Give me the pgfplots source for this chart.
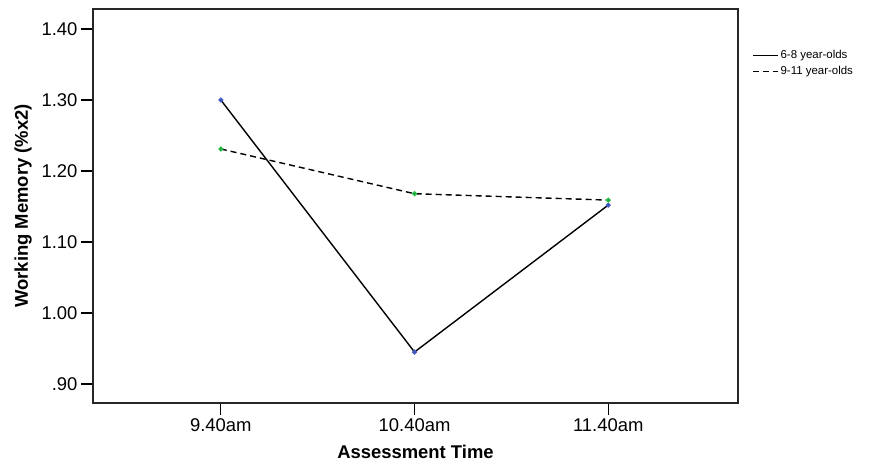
\documentclass[border=0pt]{standalone}
\usepackage{fontspec}
\setmainfont{Liberation Sans}
\usepackage{pgfplots}
\pgfplotsset{compat=1.18}
\definecolor{ptblue}{RGB}{70,95,200}
\definecolor{ptgreen}{RGB}{40,190,70}
\pgfplotstableread{
x y
0 1.300
1 0.945
2 1.152
}\younger
\pgfplotstableread{
x y
0 1.231
1 1.168
2 1.159
}\older
\begin{document}
\begin{tikzpicture}
\useasboundingbox (-93bp,-69bp) rectangle (785bp,403bp);
\begin{axis}[
  at={(0,0)}, anchor=south west,
  scale only axis, width=645bp, height=394bp,
  xmin=-0.66, xmax=2.67, ymin=0.8732, ymax=1.4282,
  xtick={0,1,2}, xticklabels={9.40am,10.40am,11.40am},
  ytick={0.9,1.0,1.1,1.2,1.3,1.4},
  yticklabels={.90,1.00,1.10,1.20,1.30,1.40},
  tick align=outside, tick pos=left,
  major tick length=12bp,
  tick style={line width=1.1bp, black},
  axis line style={line width=1.2bp, black!85},
  ticklabel style={font=\fontsize{18.5}{20}\selectfont},
  xlabel={Assessment Time},
  ylabel={Working Memory (\%x2)},
  label style={font=\fontsize{18.5}{20}\selectfont\bfseries},
  xlabel style={at={(axis description cs:0.5,-0.1396)}, anchor=base},
  ylabel style={at={(axis description cs:-0.1008,0.5)}, anchor=base, rotate=0},
  legend style={at={(axis description cs:1.0217,0.862)}, anchor=west,
    draw=none, fill=none, font=\fontsize{11.5}{13}\selectfont,
    row sep=2bp, inner sep=0pt},
  legend cell align=left,
  legend image code/.code={\draw[#1] (0bp,0bp) -- (25bp,0bp);},
]
\addplot[black, line width=1.4bp, mark=*, mark size=1.8bp,
  mark options={solid, fill=ptblue!55!black, draw=ptblue}] table[x=x,y=y] {\younger};
\addlegendentry{6-8 year-olds}
\addplot[black, line width=1.4bp, dash pattern=on 6bp off 4bp, mark=*, mark size=1.8bp,
  mark options={solid, fill=ptgreen!50!black, draw=ptgreen}] table[x=x,y=y] {\older};
\addlegendentry{9-11 year-olds}
\end{axis}
\end{tikzpicture}
\end{document}
